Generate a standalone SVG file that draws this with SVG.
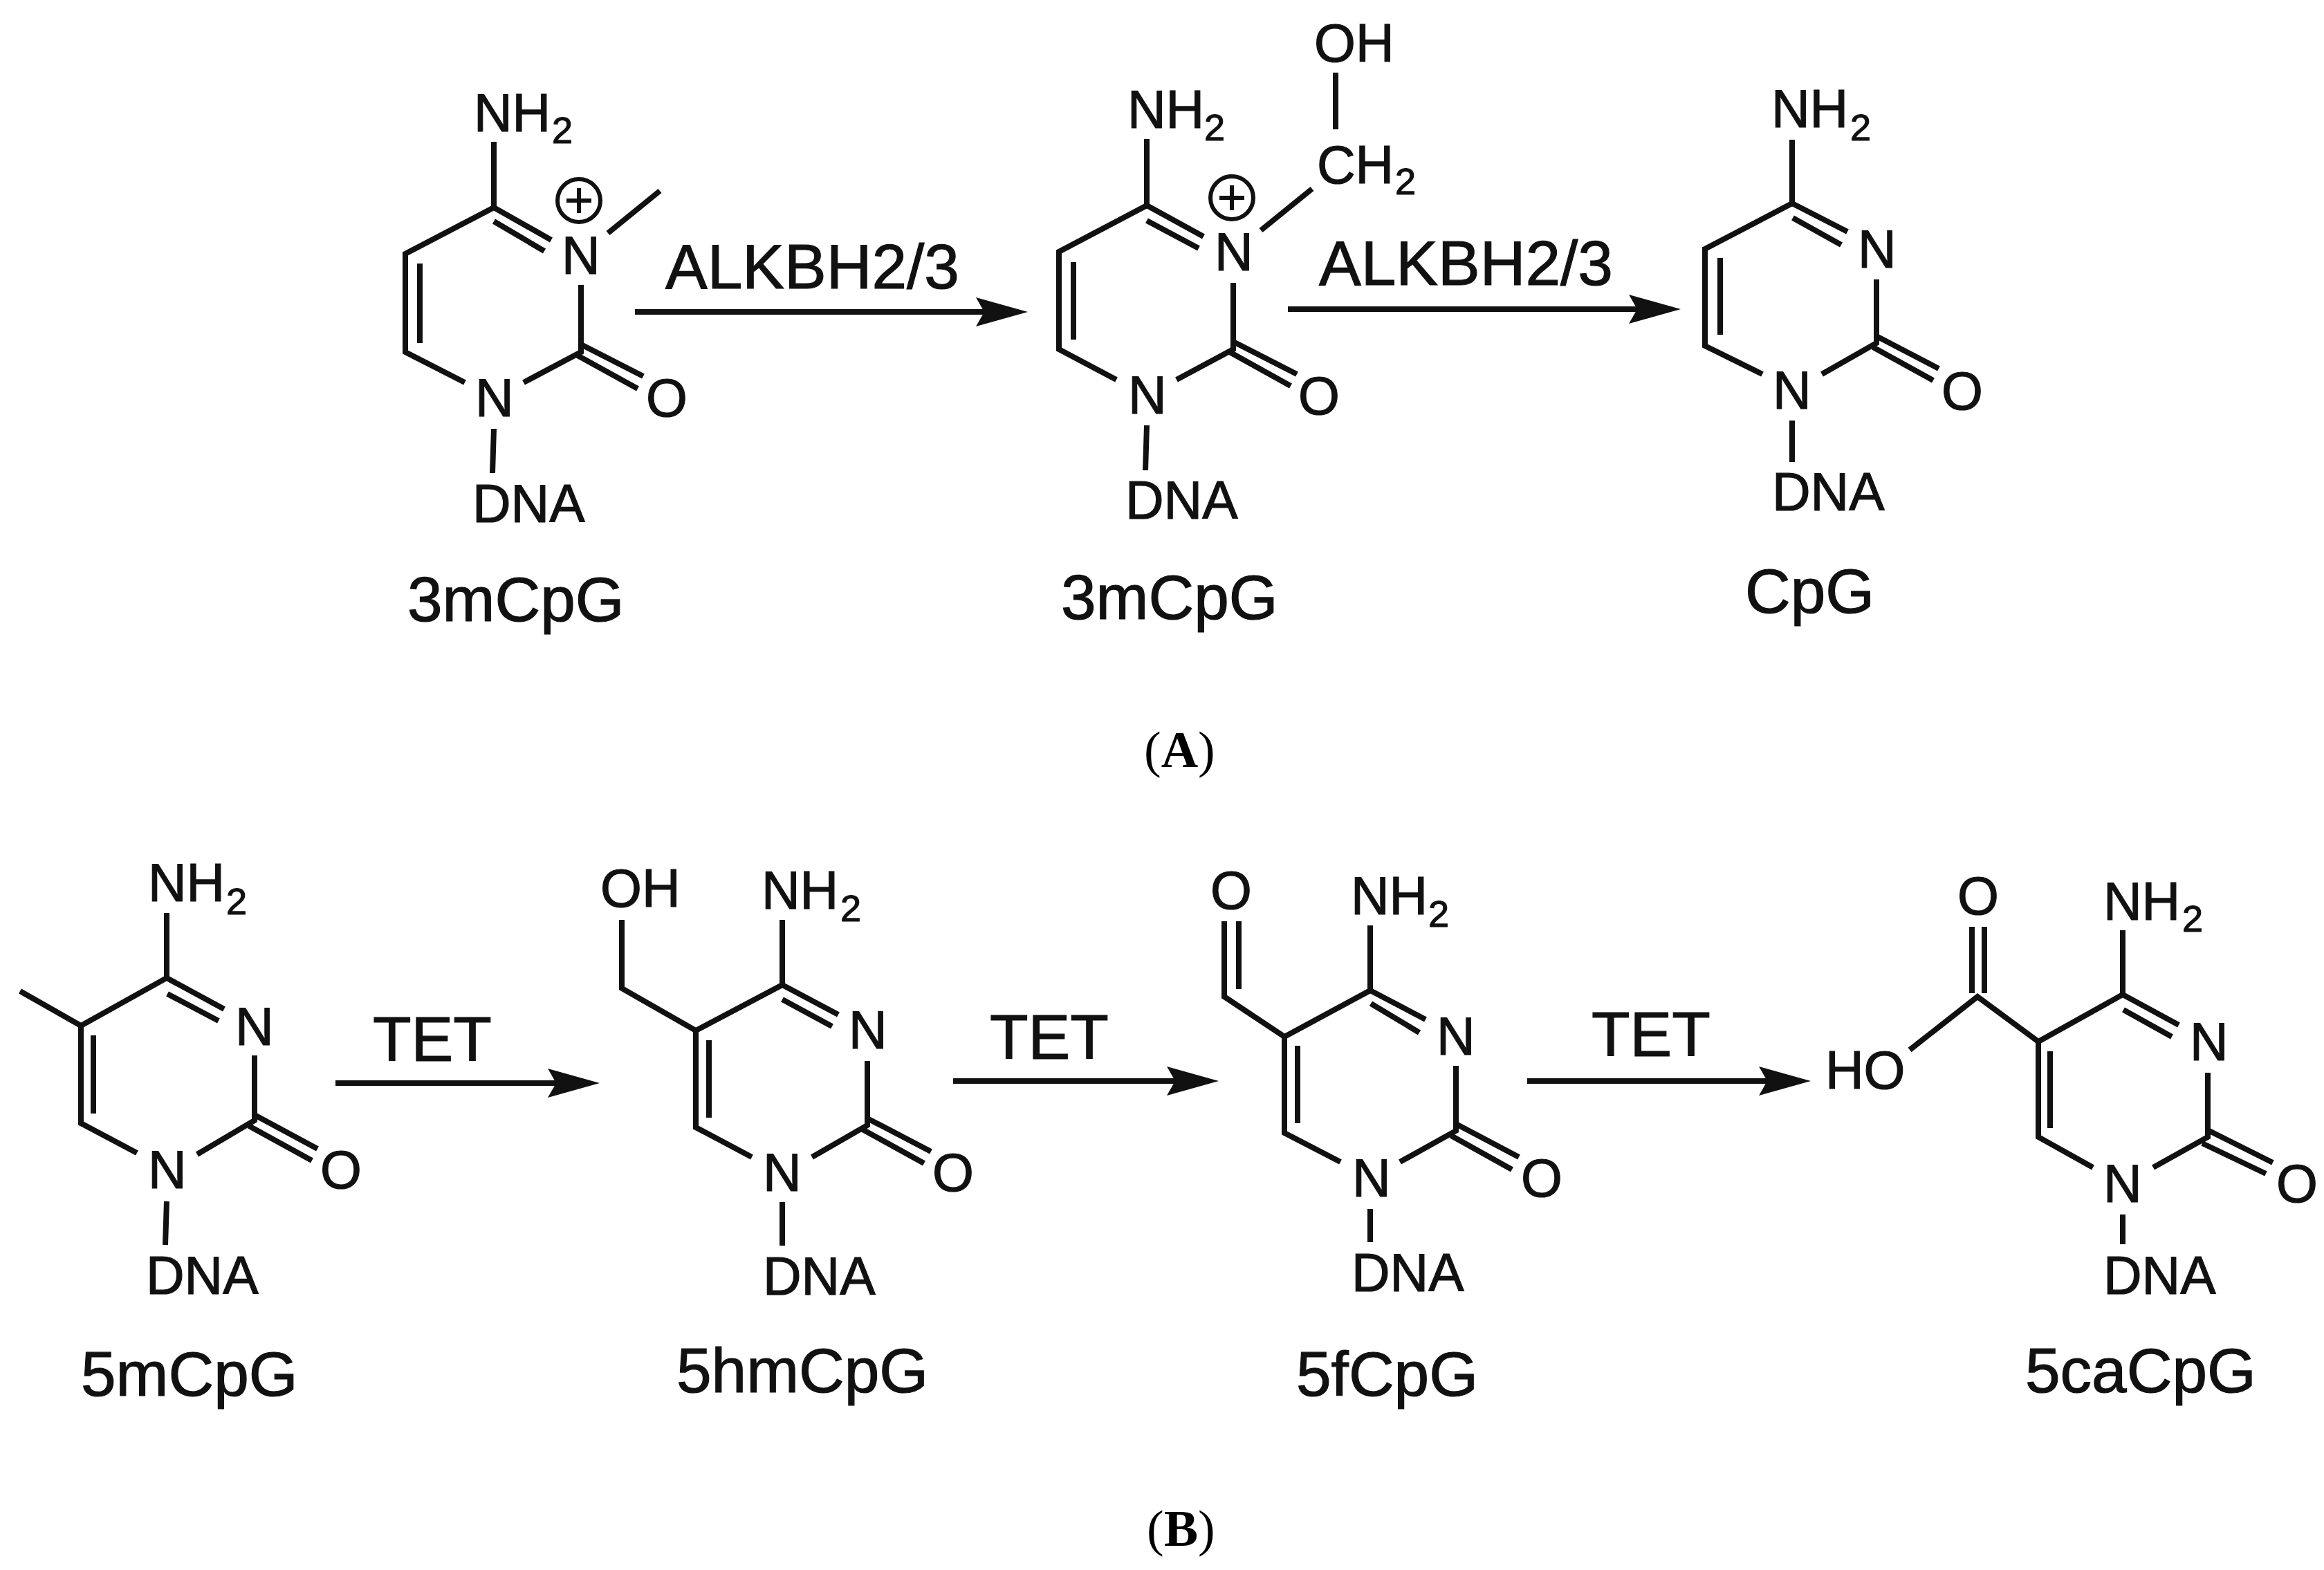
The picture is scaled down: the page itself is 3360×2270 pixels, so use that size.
<svg xmlns="http://www.w3.org/2000/svg" width="3360" height="2270" viewBox="0 0 3360 2270">
<style>
text{font-family:"Liberation Sans",Arial,sans-serif;fill:#111;stroke:#111;stroke-width:1.2}
.a{font-size:77px}
.s{font-size:54px}
.c{font-size:91px}
.t{font-family:"Liberation Serif","Times New Roman",serif;font-size:74px;fill:#000;stroke:none}
.t tspan{font-weight:bold}
.b{fill:none;stroke:#111;stroke-width:8;stroke-linecap:butt;stroke-linejoin:miter}
.p{fill:none;stroke:#111;stroke-width:6}
.r{fill:none;stroke:#111;stroke-width:8}
</style>
<defs>
<marker id="h" markerUnits="userSpaceOnUse" viewBox="0 0 75 42" refX="15" refY="21" markerWidth="75" markerHeight="42" orient="auto"><path d="M0,0 L75,21 L0,42 L12,21Z" fill="#111"/></marker>
</defs>
<rect width="3360" height="2270" fill="#fff"/>

<g id="connectors">
<line class="r" x1="918" y1="451" x2="1426" y2="451" marker-end="url(#h)"/>
<line class="r" x1="1862" y1="447" x2="2370" y2="447" marker-end="url(#h)"/>
<line class="r" x1="485" y1="1566" x2="807" y2="1566" marker-end="url(#h)"/>
<line class="r" x1="1378" y1="1563" x2="1702" y2="1563" marker-end="url(#h)"/>
<line class="r" x1="2208" y1="1563" x2="2558" y2="1563" marker-end="url(#h)"/>
<text class="c" x="962" y="417">ALKBH2/3</text>
<text class="c" x="1907" y="412">ALKBH2/3</text>
<text class="c" x="539" y="1534">TET</text>
<text class="c" x="1431" y="1531">TET</text>
<text class="c" x="2301" y="1527">TET</text>
</g>

<g id="mol-3mCpG-a">
<path class="b" d="M714,205V300L586,367V509L672,553M757,553L840,509V412M714,300L797,347M714,320L787,363M607,381V496M840,498L930,544M835,514L922,562M879,337L954,276M714,620L712,684"/>
<circle class="p" cx="837" cy="290" r="31"/><path class="p" d="M819,290H855M837,272V308"/>
<text class="a" x="685" y="190">NH<tspan class="s" x="798" y="207">2</tspan></text>
<text class="a" x="812" y="396">N</text>
<text class="a" x="687" y="602">N</text>
<text class="a" x="934" y="602">O</text>
<text class="a" x="683" y="755">DNA</text>
<text class="c" x="589" y="898">3mCpG</text>
</g>

<g id="mol-3mCpG-b">
<path class="b" d="M1658,201V297L1531,364V505L1614,549M1701,549L1783,505V409M1658,297L1740,342M1658,319L1733,359M1552,379V491M1783,494L1875,541M1776,508L1866,558M1823,333L1897,273M1931,105V187M1658,615L1656,680"/>
<circle class="p" cx="1781" cy="286" r="31"/><path class="p" d="M1763,286H1799M1781,268V304"/>
<text class="a" x="1630" y="185">NH<tspan class="s" x="1741" y="203">2</tspan></text>
<text class="a" x="1756" y="391">N</text>
<text class="a" x="1631" y="598">N</text>
<text class="a" x="1877" y="599">O</text>
<text class="a" x="1904" y="265">CH<tspan class="s" x="2017" y="281">2</tspan></text>
<text class="a" x="1900" y="89">OH</text>
<text class="a" x="1627" y="750">DNA</text>
<text class="c" x="1534" y="895">3mCpG</text>
</g>

<g id="mol-CpG">
<path class="b" d="M2591,202V294L2465,360V500L2548,541M2634,541L2713,496V404M2591,294L2671,335M2592,315L2662,354M2487,373V484M2713,486L2803,533M2708,502L2795,550M2591,608V668"/>
<text class="a" x="2561" y="184">NH<tspan class="s" x="2675" y="203">2</tspan></text>
<text class="a" x="2686" y="387">N</text>
<text class="a" x="2563" y="591">N</text>
<text class="a" x="2807" y="592">O</text>
<text class="a" x="2562" y="738">DNA</text>
<text class="c" x="2523" y="886">CpG</text>
</g>

<g id="mol-5mCpG">
<path class="b" d="M241,1320V1414L117,1483V1624L198,1667M285,1669L368,1620V1526M241,1414L324,1459M242,1437L316,1476M135,1497V1610M368,1612L459,1661M360,1628L451,1678M29,1433L117,1483M241,1737L239,1800"/>
<text class="a" x="214" y="1303">NH<tspan class="s" x="327" y="1322">2</tspan></text>
<text class="a" x="340" y="1511">N</text>
<text class="a" x="214" y="1718">N</text>
<text class="a" x="463" y="1718">O</text>
<text class="a" x="211" y="1871">DNA</text>
<text class="c" x="117" y="2018">5mCpG</text>
</g>

<g id="mol-5hmCpG">
<path class="b" d="M899,1330V1429L1006,1490V1630L1087,1673M1174,1673L1254,1627V1534M1131,1330V1424L1006,1490M1131,1424L1212,1467M1131,1445L1203,1484M1025,1504V1616M1254,1617L1346,1665M1247,1633L1336,1682M1131,1738V1801"/>
<text class="a" x="868" y="1311">OH</text>
<text class="a" x="1101" y="1314">NH<tspan class="s" x="1215" y="1332">2</tspan></text>
<text class="a" x="1227" y="1516">N</text>
<text class="a" x="1103" y="1722">N</text>
<text class="a" x="1348" y="1722">O</text>
<text class="a" x="1103" y="1872">DNA</text>
<text class="c" x="978" y="2013">5hmCpG</text>
</g>

<g id="mol-5fCpG">
<path class="b" d="M1770,1332V1441L1857,1499V1638L1938,1680M2024,1680L2105,1635V1541M1981,1338V1432L1857,1499M1791,1332V1430M1981,1432L2061,1474M1982,1451L2052,1493M1876,1512V1624M2105,1625L2196,1673M2098,1642L2186,1691M1981,1748V1796"/>
<text class="a" x="1750" y="1314">O</text>
<text class="a" x="1953" y="1322">NH<tspan class="s" x="2065" y="1340">2</tspan></text>
<text class="a" x="2077" y="1525">N</text>
<text class="a" x="1955" y="1730">N</text>
<text class="a" x="2199" y="1730">O</text>
<text class="a" x="1954" y="1867">DNA</text>
<text class="c" x="1874" y="2018">5fCpG</text>
</g>

<g id="mol-5caCpG">
<path class="b" d="M2851,1340V1436M2869,1340V1436M2761,1518L2859,1441L2947,1506V1644L3026,1688M3113,1688L3192,1644V1551M3069,1345V1438L2947,1506M3069,1438L3150,1482M3070,1460L3140,1499M2964,1520V1631M3192,1634L3286,1681M3184,1653L3276,1697M3069,1756V1799"/>
<text class="a" x="2830" y="1322">O</text>
<text class="a" x="3041" y="1330">NH<tspan class="s" x="3155" y="1347">2</tspan></text>
<text class="a" x="3166" y="1533">N</text>
<text class="a" x="3041" y="1738">N</text>
<text class="a" x="3291" y="1738">O</text>
<text class="a" x="2639" y="1574">HO</text>
<text class="a" x="3041" y="1871">DNA</text>
<text class="c" x="2928" y="2013">5caCpG</text>
</g>

<text class="t" x="1654" y="1109">(<tspan>A</tspan>)</text>
<text class="t" x="1658" y="2235">(<tspan>B</tspan>)</text>
</svg>
